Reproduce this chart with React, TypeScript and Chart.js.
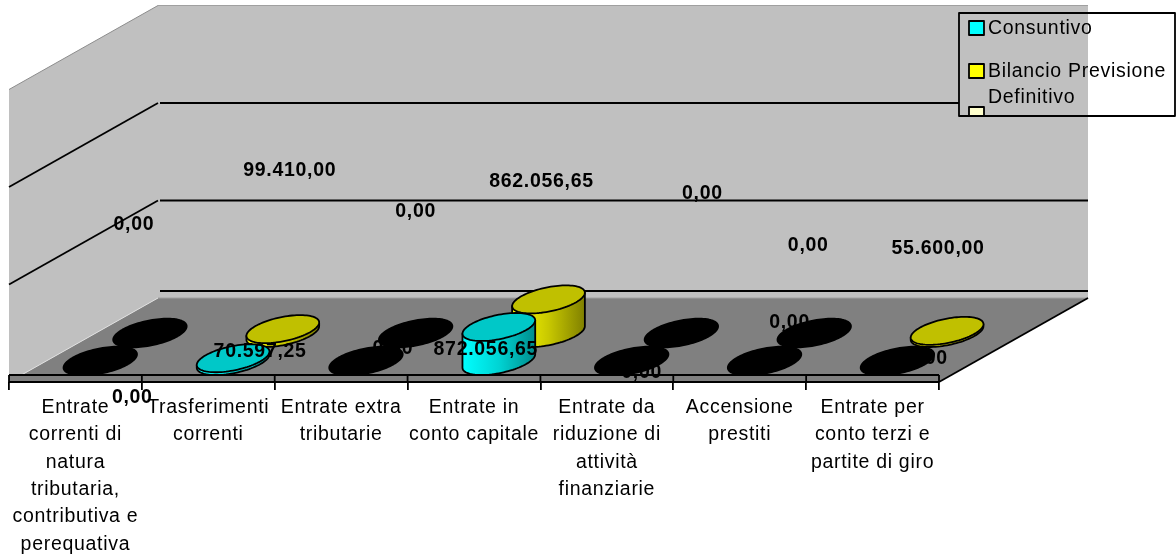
import React, { useEffect, useRef } from "react";
import { Chart, registerables } from "chart.js";

Chart.register(...registerables);

// Category names, wrapped the way the axis prints them
const categories: string[][] = [
  ["Entrate", "correnti di", "natura", "tributaria,", "contributiva e", "perequativa"],
  ["Trasferimenti", "correnti"],
  ["Entrate extra", "tributarie"],
  ["Entrate in", "conto capitale"],
  ["Entrate da", "riduzione di", "attività", "finanziarie"],
  ["Accensione", "prestiti"],
  ["Entrate per", "conto terzi e", "partite di giro"],
];

const consuntivo = [0, 70597.25, 0, 872056.65, 0, 0, 0];
const bilancioPrevisione = [0, 99410, 0, 862056.65, 0, 0, 55600];

const consuntivoLabels = ["0,00", "70.597,25", "0,00", "872.056,65", "0,00", "0,00", "0,00"];
const bilancioLabels = ["0,00", "99.410,00", "0,00", "862.056,65", "0,00", "0,00", "55.600,00"];

// Value axis: the wall lines sit at these values, the floor slab reaches just below zero
const wallGridValues = [2320000, 4820000];
const axisMin = -179487;
const axisMax = 7320000;

// Where each value label floats relative to the top of its cylinder
const consuntivoNudges = [[32, 37], [27, -7], [27, -12], [-13, 23], [10, 12], [25, -38], [30, -2]];
const bilancioNudges = [[-16, -108], [7, -158], [0, -121], [-7, -118], [21, -139], [-6, -87], [-9, -82]];

// Oblique projection of the chart box
const DEPTH_X = 149;
const DEPTH_Y = -84;
const FONT_FAMILY = '"Liberation Sans", Arial, sans-serif';
const FONT_SIZE = 19.5;
const TEXT_SPACING = "0.7px";
const LINE_WIDTH = 1.8;
// Slant of the cylinder's elliptical section: 1 collapses it to a line, 0 is upright
const SECTION_SLANT = 0.48;

interface SeriesStyle {
  top: string;
  stops: string[];
  depthShare: number;
}

const seriesStyles: SeriesStyle[] = [
  { top: "#00C8C8", stops: ["#00FFFF", "#00D4D4", "#008C8C"], depthShare: 1 / 6 },
  { top: "#C0C000", stops: ["#FFFF00", "#C8C800", "#808000"], depthShare: 1 / 2 },
];

function polygon(ctx: CanvasRenderingContext2D, pts: number[][], fill?: string) {
  ctx.beginPath();
  pts.forEach(([x, y], i) => (i ? ctx.lineTo(x, y) : ctx.moveTo(x, y)));
  ctx.closePath();
  if (fill) {
    ctx.fillStyle = fill;
    ctx.fill();
  }
}

function segment(ctx: CanvasRenderingContext2D, x0: number, y0: number, x1: number, y1: number, color = "#000", width = LINE_WIDTH) {
  ctx.beginPath();
  ctx.moveTo(x0, y0);
  ctx.lineTo(x1, y1);
  ctx.strokeStyle = color;
  ctx.lineWidth = width;
  ctx.stroke();
}

// Walls and floor of the box, behind everything the scales draw
const boxPlugin = {
  id: "box3d",
  beforeDraw(chart: any) {
    const { ctx, chartArea: a, scales } = chart;
    const y = scales.y;
    ctx.save();
    const l = a.left;
    const r = a.right;
    const top = a.top;
    const bottom = a.bottom;

    polygon(ctx, [[l, top], [l + DEPTH_X, top + DEPTH_Y], [l + DEPTH_X, bottom + DEPTH_Y], [l, bottom]], "#C0C0C0");
    polygon(ctx, [[l + DEPTH_X, top + DEPTH_Y], [r + DEPTH_X, top + DEPTH_Y], [r + DEPTH_X, bottom + DEPTH_Y], [l + DEPTH_X, bottom + DEPTH_Y]], "#C0C0C0");
    polygon(ctx, [[l, bottom], [r, bottom], [r + DEPTH_X, bottom + DEPTH_Y], [l + DEPTH_X, bottom + DEPTH_Y]], "#808080");

    // outer edges of the walls
    segment(ctx, l, top, l + DEPTH_X, top + DEPTH_Y, "#8C8C8C", 1);
    segment(ctx, l + DEPTH_X, top + DEPTH_Y, r + DEPTH_X, top + DEPTH_Y, "#A0A0A0", 1);
    segment(ctx, l, bottom, l + DEPTH_X, bottom + DEPTH_Y, "#E0E0E0", 1);
    segment(ctx, l + DEPTH_X, bottom + DEPTH_Y, r + DEPTH_X, bottom + DEPTH_Y, "#A0A0A0", 1);
    segment(ctx, r, bottom, r + DEPTH_X, bottom + DEPTH_Y);

    // wall lines, folded from the side wall onto the back wall
    for (const v of wallGridValues) {
      const py = y.getPixelForValue(v);
      segment(ctx, l, py, l + DEPTH_X, py + DEPTH_Y);
      segment(ctx, l + DEPTH_X + 2, py + DEPTH_Y, r + DEPTH_X, py + DEPTH_Y);
    }
    const zero = y.getPixelForValue(0);
    segment(ctx, l + DEPTH_X + 2, zero + DEPTH_Y, r + DEPTH_X, zero + DEPTH_Y);
    ctx.restore();
    (ctx as any).letterSpacing = TEXT_SPACING;
  },
};

function drawCylinder(
  ctx: CanvasRenderingContext2D,
  cx: number,
  baseY: number,
  topY: number,
  halfX: number,
  halfY: number,
  style: SeriesStyle,
  isZero: boolean,
) {
  const phase = Math.acos(SECTION_SLANT);
  const px = (t: number) => cx + halfX * Math.cos(t);
  const py = (t: number, cy: number) => cy - halfY * Math.cos(t - phase);
  const steps = 96;
  const outline = (cy: number) => {
    ctx.beginPath();
    for (let i = 0; i < steps; i++) {
      const t = (Math.PI * 2 * i) / steps;
      if (i) ctx.lineTo(px(t), py(t, cy));
      else ctx.moveTo(px(t), py(t, cy));
    }
    ctx.closePath();
  };
  ctx.strokeStyle = "#000";
  ctx.lineWidth = 1.8;
  ctx.lineJoin = "round";
  if (isZero) {
    outline(baseY);
    ctx.fillStyle = "#000";
    ctx.lineWidth = 2.5;
    ctx.fill();
    ctx.stroke();
    return;
  }
  const grad = ctx.createLinearGradient(cx - halfX, 0, cx + halfX, 0);
  style.stops.forEach((c, i) => grad.addColorStop(i / (style.stops.length - 1), c));

  ctx.beginPath();
  ctx.moveTo(px(Math.PI), py(Math.PI, topY));
  for (let i = 0; i <= steps / 2; i++) {
    const t = Math.PI + (Math.PI * 2 * i) / steps;
    ctx.lineTo(px(t), py(t, baseY));
  }
  ctx.lineTo(px(0), py(0, topY));
  ctx.closePath();
  ctx.fillStyle = grad;
  ctx.fill();
  ctx.stroke();

  outline(topY);
  ctx.fillStyle = style.top;
  ctx.fill();
  ctx.stroke();
}

// Cylinders, the front slab of the floor, value labels and the legend box
const marksPlugin = {
  id: "marks3d",
  afterDatasetsDraw(chart: any) {
    const { ctx, chartArea: a, scales } = chart;
    const { x, y } = scales;
    const band = x.getPixelForValue(1) - x.getPixelForValue(0);
    const halfX = Math.hypot(band / 5, DEPTH_X / 6);
    const halfY = -DEPTH_Y / 6;
    const zero = y.getPixelForValue(0);

    ctx.save();
    // back row first so the front row overlaps it
    for (let s = 1; s >= 0; s--) {
      const style = seriesStyles[s];
      const values = chart.data.datasets[s].data as number[];
      values.forEach((v, i) => {
        const cx = x.getPixelForValue(i) + DEPTH_X * style.depthShare;
        const shift = DEPTH_Y * style.depthShare;
        drawCylinder(ctx, cx, zero + shift, y.getPixelForValue(v) + shift, halfX, halfY, style, v === 0);
      });
    }

    // front strip of the floor covers the foot of the marks
    polygon(ctx, [[a.left, zero], [a.right, zero], [a.right, a.bottom], [a.left, a.bottom]], "#808080");
    segment(ctx, a.left, zero, a.right, zero);
    segment(ctx, a.left, a.bottom, a.right, a.bottom);
    for (let i = 0; i <= categories.length; i++) {
      const tx = a.left + band * i;
      segment(ctx, tx, zero, tx, a.bottom);
    }

    // value labels
    ctx.font = `bold ${FONT_SIZE}px ${FONT_FAMILY}`;
    ctx.fillStyle = "#000";
    ctx.textAlign = "center";
    ctx.textBaseline = "middle";
    const labelRows = [
      { values: consuntivo, labels: consuntivoLabels, nudges: consuntivoNudges, style: seriesStyles[0] },
      { values: bilancioPrevisione, labels: bilancioLabels, nudges: bilancioNudges, style: seriesStyles[1] },
    ];
    for (const row of labelRows) {
      row.values.forEach((v, i) => {
        const mx = x.getPixelForValue(i) + DEPTH_X * row.style.depthShare;
        const my = y.getPixelForValue(v) + DEPTH_Y * row.style.depthShare;
        ctx.fillText(row.labels[i], mx + row.nudges[i][0], my + row.nudges[i][1]);
      });
    }

    drawLegend(ctx);
    ctx.restore();
  },
};

function drawLegend(ctx: CanvasRenderingContext2D) {
  const bx = 959;
  const by = 13;
  const bw = 216;
  const bh = 103;
  ctx.fillStyle = "#C0C0C0";
  ctx.fillRect(bx, by, 1088 - bx, bh);

  ctx.save();
  ctx.beginPath();
  ctx.rect(bx, by, bw, bh);
  ctx.clip();
  const swatches: [number, string][] = [[21, "#00FFFF"], [64, "#FFFF00"], [107, "#FFFFCC"]];
  for (const [sy, color] of swatches) {
    ctx.fillStyle = color;
    ctx.fillRect(969, sy, 15, 14);
    ctx.strokeStyle = "#000";
    ctx.lineWidth = LINE_WIDTH;
    ctx.strokeRect(969, sy, 15, 14);
  }
  ctx.restore();

  ctx.fillStyle = "#000";
  ctx.font = `${FONT_SIZE}px ${FONT_FAMILY}`;
  ctx.textAlign = "left";
  ctx.textBaseline = "alphabetic";
  ctx.fillText("Consuntivo", 988, 34);
  ctx.fillText("Bilancio Previsione", 988, 77);
  ctx.fillText("Definitivo", 988, 103);

  ctx.strokeStyle = "#000";
  ctx.lineWidth = LINE_WIDTH;
  ctx.strokeRect(bx, by, bw, bh);
}

export default function App() {
  const canvasRef = useRef<HTMLCanvasElement>(null);

  useEffect(() => {
    const chart = new Chart(canvasRef.current as HTMLCanvasElement, {
      type: "bar",
      data: {
        labels: categories as any,
        datasets: [
          { label: "Consuntivo", data: consuntivo, backgroundColor: "transparent", borderWidth: 0 },
          { label: "Bilancio Previsione Definitivo", data: bilancioPrevisione, backgroundColor: "transparent", borderWidth: 0 },
        ],
      },
      options: {
        responsive: false,
        animation: false,
        layout: { padding: { left: 9, right: 237, top: 89.5, bottom: 0 } },
        plugins: { legend: { display: false }, tooltip: { enabled: false }, title: { display: false } },
        scales: {
          x: {
            grid: { drawOnChartArea: false, drawTicks: true, tickLength: 8, color: "#000", lineWidth: LINE_WIDTH },
            border: { display: false },
            ticks: {
              autoSkip: false,
              maxRotation: 0,
              minRotation: 0,
              padding: 4,
              color: "#000",
              font: { family: FONT_FAMILY, size: FONT_SIZE, lineHeight: 27.3 / FONT_SIZE },
            },
            afterFit(scale: any) {
              scale.height = 176;
            },
          },
          y: { display: false, min: axisMin, max: axisMax },
        },
      },
      plugins: [boxPlugin, marksPlugin],
    });
    return () => chart.destroy();
  }, []);

  return (
    <div style={{ position: "fixed", left: 0, top: 0, width: 1176, height: 558, background: "#fff" }}>
      <canvas ref={canvasRef} width={1176} height={558} style={{ display: "block" }} />
    </div>
  );
}
